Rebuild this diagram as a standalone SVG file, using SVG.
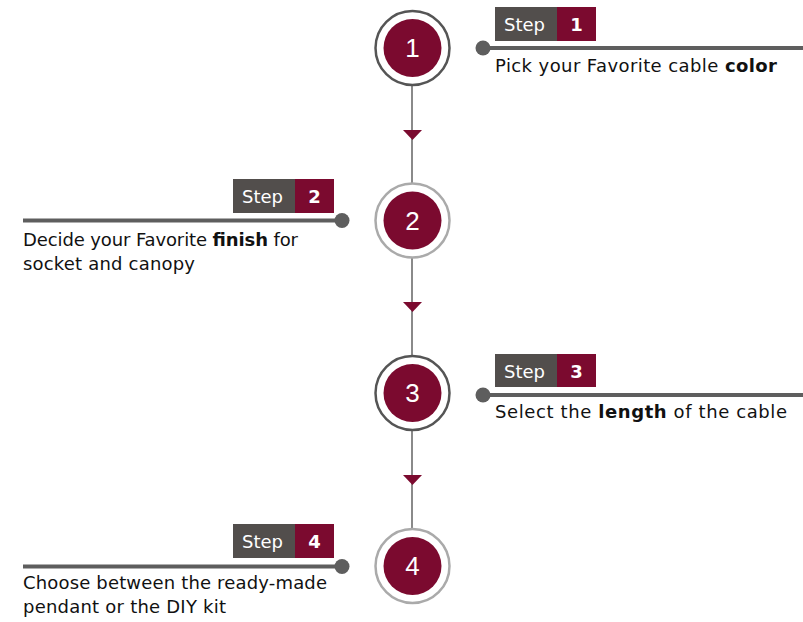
<svg xmlns="http://www.w3.org/2000/svg" width="803" height="622" viewBox="0 0 803 622">
<style>
.ring1{fill:#fff;stroke:#555;stroke-width:2.5}
.ring2{fill:#fff;stroke:#aaa;stroke-width:2.5}
.core{fill:#7b0a2f}
.num{font-family:"Liberation Sans",Arial,sans-serif;font-size:26px;fill:#fff;text-anchor:middle}
.bg{fill:#524e4c}
.br{fill:#7b0a2f}
.st{font-family:"DejaVu Sans",sans-serif;font-size:18px;fill:#fff}
.sn{font-family:"DejaVu Sans",sans-serif;font-size:18px;font-weight:bold;fill:#fff;text-anchor:middle}
.hl{stroke:#5e5e5e;stroke-width:4}
.dot{fill:#5e5e5e}
.tx{font-family:"DejaVu Sans",sans-serif;font-size:18px;fill:#111}
.b{font-weight:bold}
.vl{stroke:#8a8a8a;stroke-width:2}
.arr{fill:#7b0a2f}
</style>
<rect width="803" height="622" fill="#fff"/>
<g id="connectors">
<line class="vl" x1="412" y1="85" x2="412" y2="529"/>
<polygon class="arr" points="403,130 422,130 412.5,140"/>
<polygon class="arr" points="403,302 422,302 412.5,312"/>
<polygon class="arr" points="403,475 422,475 412.5,485"/>
</g>
<g id="step1">
<circle class="ring1" cx="412.5" cy="48" r="37"/>
<circle class="core" cx="412.5" cy="48" r="29"/>
<text class="num" x="412.5" y="57">1</text>
<rect class="bg" x="495" y="7" width="62" height="34"/>
<rect class="br" x="557" y="7" width="39" height="34"/>
<text class="st" x="504" y="31">Step</text>
<text class="sn" x="576.5" y="31">1</text>
<line class="hl" x1="483" y1="48" x2="803" y2="48"/>
<circle class="dot" cx="483" cy="48" r="7.5"/>
<text class="tx" x="495" y="72" textLength="282" lengthAdjust="spacing">Pick your Favorite cable <tspan class="b">color</tspan></text>
</g>
<g id="step2">
<circle class="ring2" cx="412.5" cy="220.5" r="37"/>
<circle class="core" cx="412.5" cy="220.5" r="29"/>
<text class="num" x="412.5" y="229.5">2</text>
<rect class="bg" x="233" y="179" width="62" height="34"/>
<rect class="br" x="295" y="179" width="39" height="34"/>
<text class="st" x="242" y="203">Step</text>
<text class="sn" x="314.5" y="203">2</text>
<line class="hl" x1="23" y1="220.5" x2="342" y2="220.5"/>
<circle class="dot" cx="342" cy="220.5" r="7.5"/>
<text class="tx" x="23" y="246" textLength="275" lengthAdjust="spacing">Decide your Favorite <tspan class="b">finish</tspan> for</text>
<text class="tx" x="23" y="270" textLength="172" lengthAdjust="spacing">socket and canopy</text>
</g>
<g id="step3">
<circle class="ring1" cx="412.5" cy="393" r="37"/>
<circle class="core" cx="412.5" cy="393" r="29"/>
<text class="num" x="412.5" y="402">3</text>
<rect class="bg" x="495" y="354" width="62" height="33"/>
<rect class="br" x="557" y="354" width="39" height="33"/>
<text class="st" x="504" y="378">Step</text>
<text class="sn" x="576.5" y="378">3</text>
<line class="hl" x1="483" y1="395" x2="803" y2="395"/>
<circle class="dot" cx="483" cy="395" r="7.5"/>
<text class="tx" x="495" y="418" textLength="292" lengthAdjust="spacing">Select the <tspan class="b">length</tspan> of the cable</text>
</g>
<g id="step4">
<circle class="ring2" cx="412.5" cy="566" r="37"/>
<circle class="core" cx="412.5" cy="566" r="29"/>
<text class="num" x="412.5" y="575">4</text>
<rect class="bg" x="233" y="524" width="62" height="34"/>
<rect class="br" x="295" y="524" width="39" height="34"/>
<text class="st" x="242" y="548">Step</text>
<text class="sn" x="314.5" y="548">4</text>
<line class="hl" x1="23" y1="566.5" x2="342" y2="566.5"/>
<circle class="dot" cx="342" cy="566.5" r="7.5"/>
<text class="tx" x="23" y="589" textLength="304" lengthAdjust="spacing">Choose between the ready-made</text>
<text class="tx" x="23" y="613" textLength="203" lengthAdjust="spacing">pendant or the DIY kit</text>
</g>
</svg>
